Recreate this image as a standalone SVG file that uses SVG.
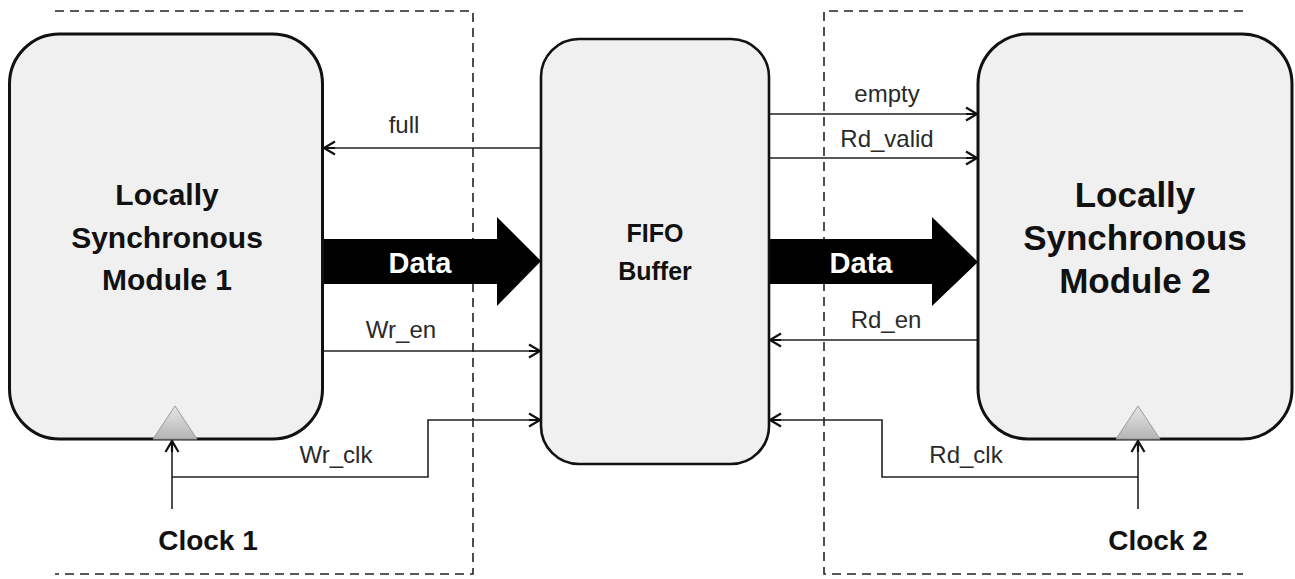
<svg xmlns="http://www.w3.org/2000/svg" width="1295" height="579" viewBox="0 0 1295 579">
<style>
.box{fill:#f0f0f0;stroke:#111;stroke-width:3}
.dash{fill:none;stroke:#222;stroke-width:1.6;stroke-dasharray:9 6}
.sig{fill:none;stroke:#222;stroke-width:1.6}
.lbl{font-family:"Liberation Sans",Arial,sans-serif;font-size:24px;fill:#2a2a2a;text-anchor:middle}
.title{font-family:"Liberation Sans",Arial,sans-serif;font-weight:bold;fill:#111;text-anchor:middle}
.data{font-family:"Liberation Sans",Arial,sans-serif;font-weight:bold;font-size:29px;fill:#fff;text-anchor:middle}
.tri{fill:url(#tg);stroke:#9a9a9a;stroke-width:1}
</style>
<defs>
<marker id="ah" markerWidth="16" markerHeight="16" refX="13" refY="8" orient="auto" markerUnits="userSpaceOnUse">
<path d="M2,1.5 L13,8 L2,14.5 M13,8 L2,8" fill="none" stroke="#111" stroke-width="2.2"/>
</marker>
<linearGradient id="tg" x1="0" y1="0" x2="0" y2="1">
<stop offset="0" stop-color="#e6e6e6"/>
<stop offset="1" stop-color="#b4b4b4"/>
</linearGradient>
</defs>
<g id="boundaries">
<path class="dash" d="M55,11 H473 V574 H55"/>
<path class="dash" d="M1243,11 H824 V574 H1243"/>
</g>
<g id="connectors">
<polygon points="323,239 497,239 497,217 541,261 497,306 497,284 323,284" fill="#000"/>
<polygon points="769,239 932,239 932,217 978,262 932,306 932,284 769,284" fill="#000"/>
<line class="sig" x1="541" y1="148" x2="324" y2="148" marker-end="url(#ah)"/>
<line class="sig" x1="320" y1="351" x2="540" y2="351" marker-end="url(#ah)"/>
<path class="sig" d="M172,477 H428 V420 H540" marker-end="url(#ah)"/>
<line class="sig" x1="172" y1="509" x2="172" y2="441" marker-end="url(#ah)"/>
<line class="sig" x1="769" y1="114" x2="977" y2="114" marker-end="url(#ah)"/>
<line class="sig" x1="769" y1="158" x2="977" y2="158" marker-end="url(#ah)"/>
<line class="sig" x1="978" y1="340" x2="770" y2="340" marker-end="url(#ah)"/>
<path class="sig" d="M1138,477 H882 V420 H770" marker-end="url(#ah)"/>
<line class="sig" x1="1138" y1="509" x2="1138" y2="441" marker-end="url(#ah)"/>
<text class="lbl" x="404" y="133">full</text>
<text class="lbl" x="401" y="338">Wr_en</text>
<text class="lbl" x="336" y="463">Wr_clk</text>
<text class="lbl" x="887" y="102">empty</text>
<text class="lbl" x="887" y="147">Rd_valid</text>
<text class="lbl" x="886" y="328">Rd_en</text>
<text class="lbl" x="966" y="463">Rd_clk</text>
<text class="data" x="420" y="273">Data</text>
<text class="data" x="861" y="273">Data</text>
</g>
<g id="module1">
<rect class="box" x="9.5" y="34" width="313" height="405" rx="50" ry="50"/>
<polygon class="tri" points="175,406 153,439 197,439"/>
<text class="title" font-size="30" x="167" y="205">Locally</text>
<text class="title" font-size="30" x="167" y="248">Synchronous</text>
<text class="title" font-size="30" x="167" y="290">Module 1</text>
</g>
<g id="fifo">
<rect class="box" x="541" y="39" width="228" height="425" rx="38" ry="38" style="stroke-width:2.6"/>
<text class="title" font-size="25" x="655" y="242">FIFO</text>
<text class="title" font-size="25" x="655" y="280">Buffer</text>
</g>
<g id="module2">
<rect class="box" x="978" y="34" width="314" height="405" rx="50" ry="50"/>
<polygon class="tri" points="1138,406 1116,439 1160,439"/>
<text class="title" font-size="35" x="1135" y="207">Locally</text>
<text class="title" font-size="35" x="1135" y="250">Synchronous</text>
<text class="title" font-size="35" x="1135" y="293">Module 2</text>
</g>
<g id="clock1">
<text class="title" font-size="28" x="208" y="550">Clock 1</text>
</g>
<g id="clock2">
<text class="title" font-size="28" x="1158" y="550">Clock 2</text>
</g>
</svg>
